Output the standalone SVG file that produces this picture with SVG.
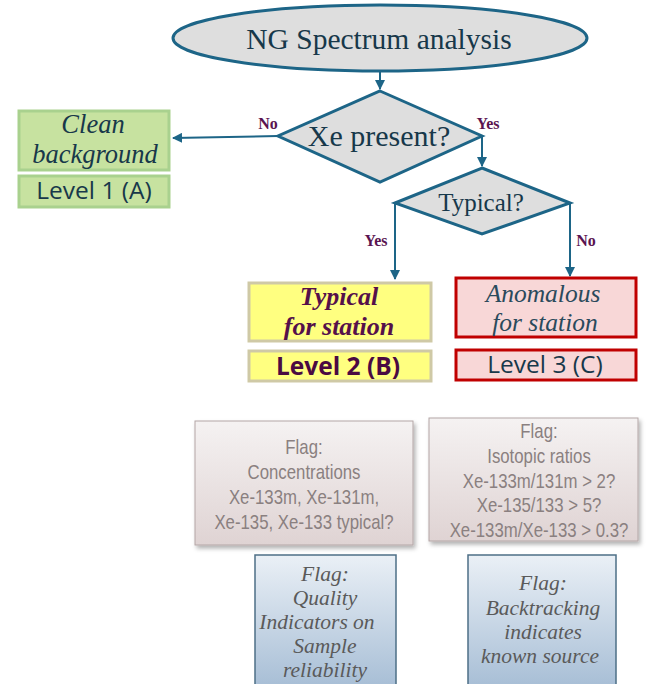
<svg xmlns="http://www.w3.org/2000/svg" width="648" height="684" viewBox="0 0 648 684">
<defs>
<style>
.shape{fill:#dedede;stroke:#1d6587;stroke-width:3}
.conn{fill:none;stroke:#1d6587;stroke-width:2}
.lbl{font-weight:bold;font-size:16px;fill:#5a1450}
.dark{fill:#17384a}
.gflag{font-size:20px;fill:#8a8080}
.bflag{font-style:italic;font-size:21.5px;fill:#5a5a5a}
</style>
<marker id="ah" viewBox="0 0 10 10" refX="9" refY="5" markerWidth="5" markerHeight="5" orient="auto">
<path d="M0,0 L10,5 L0,10 z" fill="#1d6587"/>
</marker>
<linearGradient id="gPink" x1="0" y1="0" x2="0" y2="1">
<stop offset="0" stop-color="#f5f2f2"/>
<stop offset="1" stop-color="#dfd3d3"/>
</linearGradient>
<linearGradient id="gBlue" x1="0" y1="0" x2="0" y2="1">
<stop offset="0" stop-color="#eaf0f6"/>
<stop offset="1" stop-color="#a6bdd5"/>
</linearGradient>
<filter id="sh" x="-10%" y="-10%" width="130%" height="130%">
<feDropShadow dx="2" dy="3" stdDeviation="2" flood-color="#000" flood-opacity="0.3"/>
</filter>
</defs>

<g id="connectors">
<line class="conn" x1="380" y1="71" x2="380" y2="89" marker-end="url(#ah)"/>
<line class="conn" x1="278" y1="136" x2="173" y2="138" marker-end="url(#ah)"/>
<polyline class="conn" points="482,137 482,166" marker-end="url(#ah)"/>
<polyline class="conn" points="395,203 395,279" marker-end="url(#ah)"/>
<polyline class="conn" points="570,203 570,276" marker-end="url(#ah)"/>
<text class="lbl" style="font-family:'Liberation Serif',serif" x="268" y="129" text-anchor="middle">No</text>
<text class="lbl" style="font-family:'Liberation Serif',serif" x="488" y="129" text-anchor="middle">Yes</text>
<text class="lbl" style="font-family:'Liberation Serif',serif" x="376" y="246" text-anchor="middle">Yes</text>
<text class="lbl" style="font-family:'Liberation Serif',serif" x="586" y="246" text-anchor="middle">No</text>
</g>

<g id="start">
<ellipse class="shape" cx="380" cy="38" rx="207" ry="33"/>
<text class="dark" style="font-family:'Liberation Serif',serif" x="379" y="49" font-size="29.5" text-anchor="middle">NG Spectrum analysis</text>
</g>

<g id="xe-present">
<polygon class="shape" points="380,91 482,136 380,182 278,136"/>
<text class="dark" style="font-family:'Liberation Serif',serif" x="379" y="146" font-size="30" text-anchor="middle">Xe present?</text>
</g>

<g id="typical-q">
<polygon class="shape" points="482,168 570,203 482,234 395,203"/>
<text class="dark" style="font-family:'Liberation Serif',serif" x="481" y="211" font-size="25" text-anchor="middle">Typical?</text>
</g>

<g id="clean">
<rect x="19" y="111" width="150" height="59" fill="#c7e2a0" stroke="#a9d18e" stroke-width="3"/>
<text class="dark" style="font-family:'Liberation Serif',serif;font-style:italic" font-size="26.5" text-anchor="middle"><tspan x="93" y="133">Clean</tspan><tspan x="95" y="163">background</tspan></text>
</g>

<g id="level1">
<rect x="19" y="176" width="150" height="31" fill="#c7e2a0" stroke="#a9d18e" stroke-width="3"/>
<text class="dark" style="font-family:'Open Sans',sans-serif" x="94" y="199" font-size="24.5" text-anchor="middle">Level 1 (A)</text>
</g>

<g id="typical-station">
<rect x="249" y="283" width="182" height="58" fill="#ffff80" stroke="#cfc9a6" stroke-width="3"/>
<text style="font-family:'Liberation Serif',serif;font-style:italic;font-weight:bold" font-size="26" fill="#55104a" text-anchor="middle"><tspan x="339" y="305">Typical</tspan><tspan x="339" y="335">for station</tspan></text>
</g>

<g id="level2">
<rect x="249" y="351" width="182" height="30" fill="#ffff80" stroke="#cfc9a6" stroke-width="3"/>
<text style="font-family:'Open Sans',sans-serif;font-weight:bold" x="338" y="375" font-size="24.5" fill="#4a0a42" text-anchor="middle">Level 2 (B)</text>
</g>

<g id="anomalous">
<rect x="456" y="278" width="180" height="59" fill="#f8d7d7" stroke="#c00000" stroke-width="3"/>
<text style="font-family:'Liberation Serif',serif;font-style:italic" font-size="25.5" fill="#2a4a5c" text-anchor="middle"><tspan x="543" y="302">Anomalous</tspan><tspan x="545" y="331">for station</tspan></text>
</g>

<g id="level3">
<rect x="456" y="350" width="180" height="30" fill="#f8d7d7" stroke="#c00000" stroke-width="3"/>
<text class="dark" style="font-family:'Open Sans',sans-serif" x="545" y="373" font-size="24.5" text-anchor="middle">Level 3 (C)</text>
</g>

<g id="flag-conc">
<rect x="195" y="421" width="218" height="124" fill="url(#gPink)" stroke="#b3a6a6" stroke-width="1" filter="url(#sh)"/>
<text class="gflag" style="font-family:'Liberation Sans',Arial,sans-serif" text-anchor="middle" transform="translate(304,0) scale(0.84,1)"><tspan x="0" y="454">Flag:</tspan><tspan x="0" y="479">Concentrations</tspan><tspan x="0" y="504">Xe-133m, Xe-131m,</tspan><tspan x="0" y="529">Xe-135, Xe-133 typical?</tspan></text>
</g>

<g id="flag-iso">
<rect x="429" y="418" width="209" height="123" fill="url(#gPink)" stroke="#b3a6a6" stroke-width="1" filter="url(#sh)"/>
<text class="gflag" style="font-family:'Liberation Sans',Arial,sans-serif" text-anchor="middle" transform="translate(539,0) scale(0.84,1)"><tspan x="0" y="438">Flag:</tspan><tspan x="0" y="463">Isotopic ratios</tspan><tspan x="0" y="488">Xe-133m/131m &gt; 2?</tspan><tspan x="0" y="512">Xe-135/133 &gt; 5?</tspan><tspan x="0" y="537">Xe-133m/Xe-133 &gt; 0.3?</tspan></text>
</g>

<g id="flag-quality">
<rect x="255" y="555" width="141" height="135" fill="url(#gBlue)" stroke="#4d6f86" stroke-width="1.5"/>
<text class="bflag" style="font-family:'Liberation Serif',serif" text-anchor="middle"><tspan x="325" y="581">Flag:</tspan><tspan x="325" y="605">Quality</tspan><tspan x="317" y="629">Indicators on</tspan><tspan x="325" y="653">Sample</tspan><tspan x="325" y="677">reliability</tspan></text>
</g>

<g id="flag-backtrack">
<rect x="468" y="555" width="148" height="135" fill="url(#gBlue)" stroke="#4d6f86" stroke-width="1.5"/>
<text class="bflag" style="font-family:'Liberation Serif',serif" text-anchor="middle"><tspan x="543" y="590">Flag:</tspan><tspan x="543" y="615">Backtracking</tspan><tspan x="543" y="639">indicates</tspan><tspan x="540" y="663">known source</tspan></text>
</g>
</svg>
